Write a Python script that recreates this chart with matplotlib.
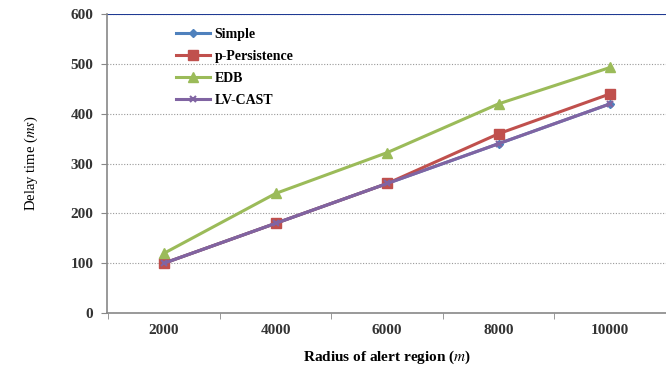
import numpy as np
import matplotlib.pyplot as plt

radius = ["2000", "4000", "6000", "8000", "10000"]
simple = [100, 180, 260, 340, 420]
p_persistence = [100, 180, 260, 360, 440]
edb = [120, 240, 322, 420, 493]
lv_cast = [100, 180, 260, 340, 420]

plt.rcParams['font.family'] = ['Liberation Serif', 'DejaVu Serif']
plt.rcParams['mathtext.fontset'] = 'stix'

fig = plt.figure(figsize=(6.66, 3.72), dpi=100)
ax = fig.add_axes([0.161, 0.1586, 0.839, 0.8034])

x = np.arange(len(radius))
ax.plot(x, simple, color="#4F81BD", lw=2.2, marker="D", ms=4, label="Simple")
ax.plot(x, p_persistence, color="#C0504D", lw=2.2, marker="s", ms=7, label="p-Persistence")
ax.plot(x, edb, color="#9BBB59", lw=2.2, marker="^", ms=7, label="EDB")
ax.plot(x, lv_cast, color="#8064A2", lw=2.2, marker="x", ms=5, mew=1.5, label="LV-CAST")

ax.set_xlim(-0.51, 4.4)
ax.set_ylim(0, 600)
ax.set_yticks(range(0, 601, 100))
ax.set_xticks(x)
ax.set_xticklabels(radius)
ax.set_xticks(np.arange(-0.5, 4.6, 1), minor=True)
ax.tick_params(axis="x", which="major", length=0, pad=8)
ax.tick_params(axis="x", which="minor", length=4, color="#888888")
ax.tick_params(axis="y", length=4, color="#888888", pad=6)
for lab in ax.get_xticklabels() + ax.get_yticklabels():
    lab.set_fontweight("bold")
    lab.set_fontsize(11)
    lab.set_color("#333333")

ax.grid(axis="y", linestyle=(0, (1, 1.5)), color="#999999", lw=0.8)
ax.axhline(600, color="#1F3A93", lw=1.5)
ax.spines["right"].set_visible(False)
ax.spines["top"].set_visible(False)
ax.spines["left"].set_color("#888888")
ax.spines["bottom"].set_color("#888888")
ax.spines["left"].set_linewidth(1.2)
ax.spines["bottom"].set_linewidth(1.2)

ax.set_ylabel("Delay time ($ms$)", fontsize=10.5, labelpad=22)
ax.set_xlabel("Radius of alert region ($m$)", fontsize=11, fontweight="bold", labelpad=8)

leg = ax.legend(loc="upper left", bbox_to_anchor=(0.1, 0.995), frameon=False,
                prop={"weight": "bold", "size": 10}, handlelength=2.5,
                labelspacing=0.65, handletextpad=0.3)

fig.savefig("out.png", dpi=100)
